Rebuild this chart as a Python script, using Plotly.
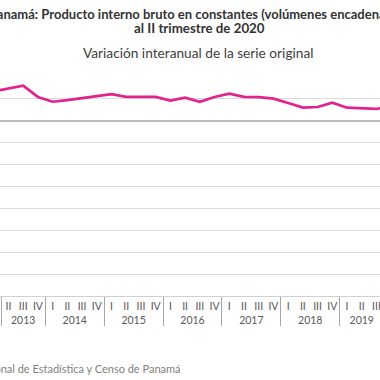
import plotly.graph_objects as go

years = ["2013", "2014", "2015", "2016", "2017", "2018", "2019"]
quarter_names = ["I", "II", "III", "IV"]
variacion = [6.7, 7.35, 8.0, 5.45,
             4.35, 4.7, 5.15, 5.75,
             6.1, 5.45, 5.45, 5.45,
             4.6, 5.3, 4.35, 5.45,
             6.2, 5.45, 5.4, 5.05,
             4.05, 3.0, 3.15, 4.15,
             3.0, 2.85, 2.7, 3.4]

title_line1 = "Panamá: Producto interno bruto en constantes (volúmenes encadenados)"
title_line2 = "al II trimestre de 2020"
subtitle = "Variación interanual de la serie original"
fuente = "Fuente: Instituto Nacional de Estadística y Censo de Panamá"

W, H = 380, 380
T, B = 77, 84
PH = H - T - B
FONT = "Lato"

x_years = [y for y in years for _ in quarter_names]
x_quarters = quarter_names * len(years)
XR = [0.4226, 26.24]


def ypx(p):
    # pixel row (from top) -> paper coordinate
    return (H - B - p) / PH


fig = go.Figure()
fig.add_trace(go.Scatter(
    x=[x_years, x_quarters], y=variacion, mode="lines",
    line=dict(color="#E2238D", width=2.7),
    hoverinfo="skip", showlegend=False,
))

fig.update_layout(
    width=W, height=H,
    margin=dict(l=0, r=0, t=T, b=B, autoexpand=False),
    paper_bgcolor="white", plot_bgcolor="white",
    font=dict(family=FONT, color="#404040"),
    xaxis=dict(
        type="multicategory",
        range=XR, automargin=False,
        showgrid=False, zeroline=False,
        showline=True, linecolor="#d0d0d0", linewidth=1,
        showdividers=True, dividercolor="#a6a6a6", dividerwidth=1,
        ticks="", tickangle=0, ticklabeloverflow="allow",
        tickfont=dict(family=FONT, size=10.5, color="#595959"),
    ),
    yaxis=dict(
        range=[-40, 10], dtick=5,
        automargin=False,
        showgrid=True, gridcolor="#dcdcdc", gridwidth=1,
        zeroline=True, zerolinecolor="#bdbdbd", zerolinewidth=2,
        showticklabels=False, ticks="",
    ),
    annotations=[
        dict(text="<b>" + title_line1 + "</b>", xref="paper", yref="paper",
             x=199 / W, y=ypx(13.5), xanchor="center", yanchor="middle",
             showarrow=False, font=dict(family=FONT, size=13, color="#333333")),
        dict(text="<b>" + title_line2 + "</b>", xref="paper", yref="paper",
             x=199 / W, y=ypx(28.5), xanchor="center", yanchor="middle",
             showarrow=False, font=dict(family=FONT, size=13.3, color="#333333")),
        dict(text=subtitle, xref="paper", yref="paper",
             x=198 / W, y=ypx(52), xanchor="center", yanchor="middle",
             showarrow=False, font=dict(family=FONT, size=13.7, color="#404040")),
        dict(text=fuente, xref="paper", yref="paper",
             x=183 / W, y=ypx(368), xanchor="right", yanchor="middle",
             showarrow=False, font=dict(family=FONT, size=11, color="#7f7f7f")),
    ],
)

fig.write_html("out.html", config={"displayModeBar": False},
               post_script="document.body.style.margin='0';")
